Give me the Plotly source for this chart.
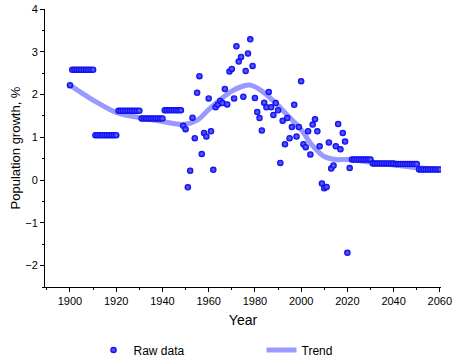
import plotly.graph_objects as go

# ---- Raw data ----
years_raw = list(range(1900, 2061))
vals_raw = (
    [2.22]
    + [2.58] * 10            # 1901-1910
    + [1.05] * 10            # 1911-1920
    + [1.62] * 10            # 1921-1930
    + [1.44] * 10            # 1931-1940
    + [1.63] * 8             # 1941-1948
    + [1.27, 1.19, -0.17, 0.22, 1.46, 0.98, 2.04, 2.43, 0.61, 1.10,   # 1949-1958
       1.02, 1.91, 1.14, 0.24, 1.70, 1.77, 1.85, 1.80, 2.13, 1.77,    # 1959-1968
       2.54, 2.60, 1.91, 3.13, 2.77, 2.88, 1.95, 2.55, 2.96, 3.29,    # 1969-1978
       2.67, 1.92, 1.59, 1.45, 1.16, 1.81, 1.70, 2.06, 1.70, 1.52,    # 1979-1988
       1.80, 1.63, 0.40, 1.39, 0.84, 1.45, 0.98, 1.24, 1.76, 1.02,    # 1989-1998
       1.24, 2.31, 0.84, 0.77, 1.14, 0.60, 1.30, 1.42, 1.14, 0.79,    # 1999-2008
       -0.08, -0.19, -0.16, 0.88, 0.27, 0.34, 0.79, 1.31, 0.72, 1.10, # 2009-2018
       0.90, -1.70, 0.28]                                             # 2019-2021
    + [0.48] * 9             # 2022-2030
    + [0.39] * 10            # 2031-2040
    + [0.375] * 10           # 2041-2050
    + [0.25] * 10            # 2051-2060
)

# ---- Trend ----
years_trend = [1900, 1910, 1920, 1930, 1940, 1949, 1955, 1960, 1965, 1970, 1975,
               1978, 1982, 1988, 1994, 2000, 2005, 2010, 2015, 2020, 2030, 2040, 2050, 2060]
vals_trend = [2.22, 1.87, 1.58, 1.46, 1.37, 1.30, 1.40, 1.65, 1.88, 2.08, 2.20,
              2.22, 2.12, 1.85, 1.52, 1.18, 0.80, 0.55, 0.48, 0.48, 0.42, 0.35, 0.29, 0.25]

x_ticks = [1900, 1920, 1940, 1960, 1980, 2000, 2020, 2040, 2060]
y_ticks = [-2, -1, 0, 1, 2, 3, 4]
y_tick_text = ["\u22122", "\u22121", "0", "1", "2", "3", "4"]

FONT = "Liberation Sans, Arial, sans-serif"

fig = go.Figure()
fig.add_trace(go.Scatter(
    x=years_trend, y=vals_trend, mode="lines", name="Trend",
    line=dict(color="#9999ff", width=5, shape="spline", smoothing=1.0),
))
fig.add_trace(go.Scatter(
    x=years_raw, y=vals_raw, mode="markers", name="Raw data",
    marker=dict(size=6.5, color="#0000f0",
                gradient=dict(type="radial", color="#7070ff"),
                line=dict(width=0)),
))

axis_common = dict(
    showline=True, linecolor="black", linewidth=1, mirror=False,
    ticks="outside", ticklen=4, tickwidth=1, tickcolor="black",
    showgrid=False, zeroline=False, automargin=False, ticklabeloverflow="allow",
    tickfont=dict(family=FONT, size=11, color="black"),
)

fig.update_layout(
    width=454, height=357,
    margin=dict(l=45, r=13, t=9, b=70, autoexpand=False),
    paper_bgcolor="white", plot_bgcolor="white",
    font=dict(family=FONT, size=11, color="black"),
    xaxis=dict(range=[1889.2, 2060.5], tickvals=x_ticks,
               title=dict(text="Year", font=dict(family=FONT, size=14), standoff=8),
               minor=dict(ticks="outside", ticklen=2, tickcolor="black", dtick=10, tick0=1890),
               **axis_common),
    yaxis=dict(range=[-2.5, 4], tickvals=y_ticks, ticktext=y_tick_text,
               title=dict(text="Population growth, %", font=dict(family=FONT, size=13), standoff=1),
               minor=dict(ticks="outside", ticklen=2, tickcolor="black", dtick=0.5, tick0=-2.5),
               **axis_common),
    legend=dict(orientation="h", xref="container", yref="container",
                x=0.206, y=0.0196, xanchor="left", yanchor="middle",
                traceorder="reversed",
                font=dict(family=FONT, size=12), entrywidth=123, entrywidthmode="pixels",
                bgcolor="rgba(0,0,0,0)"),
    showlegend=True,
)

# remove the default 8px page margin so the 454x357 figure fills the window exactly
fig.write_html("out.html", config={"displayModeBar": False},
               post_script="document.body.style.margin='0';document.body.style.overflow='hidden';")
